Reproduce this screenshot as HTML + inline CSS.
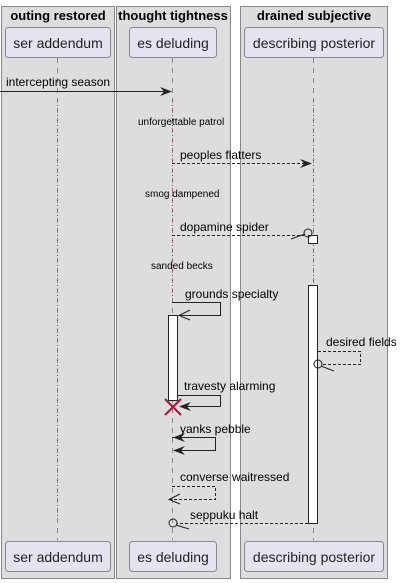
<!DOCTYPE html>
<html><head><style>body{margin:0;background:#fff}svg{display:block}</style></head><body>
<svg width="407" height="583" xmlns="http://www.w3.org/2000/svg" font-family="Liberation Sans, sans-serif">
<g fill="#ddd" stroke="#888" stroke-width="1">
<rect x="1.5" y="6.5" width="113" height="572"/>
<rect x="116.5" y="6.5" width="114" height="572"/>
<rect x="240.5" y="6.5" width="147" height="572"/>
</g>
<g font-weight="bold" font-size="13" text-anchor="middle" fill="#000">
<text x="58" y="20">outing restored</text>
<text x="173" y="20">thought tightness</text>
<text x="314" y="20">drained subjective</text>
</g>
<g stroke-width="1" fill="none">
<line x1="57.5" y1="58" x2="57.5" y2="540" stroke="#888" stroke-dasharray="5,5"/>
<line x1="172.5" y1="58" x2="172.5" y2="540" stroke="#888" stroke-dasharray="5,5"/>
<line x1="313.5" y1="58" x2="313.5" y2="540" stroke="#888" stroke-dasharray="5,5"/>
<line x1="57.5" y1="100" x2="57.5" y2="520" stroke="#a03050" stroke-dasharray="1,4"/>
<line x1="172.5" y1="100" x2="172.5" y2="300" stroke="#a03050" stroke-dasharray="1,4"/>
<line x1="313.5" y1="100" x2="313.5" y2="285" stroke="#a03050" stroke-dasharray="1,4"/>
</g>
<g fill="#e4e4f0" stroke="#888">
<rect x="5.5" y="27.5" width="105" height="30" rx="3"/>
<rect x="129.5" y="27.5" width="87" height="30" rx="3"/>
<rect x="244.5" y="27.5" width="139" height="30" rx="3"/>
<rect x="5.5" y="541.5" width="105" height="30" rx="3"/>
<rect x="129.5" y="541.5" width="87" height="30" rx="3"/>
<rect x="244.5" y="541.5" width="139" height="30" rx="3"/>
</g>
<g font-size="14" text-anchor="middle" fill="#222">
<text x="58" y="48">ser addendum</text>
<text x="173" y="48">es deluding</text>
<text x="314" y="48">describing posterior</text>
<text x="58" y="562">ser addendum</text>
<text x="173" y="562">es deluding</text>
<text x="314" y="562">describing posterior</text>
</g>
<g fill="#fff" stroke="#222">
<rect x="308.5" y="235.5" width="9" height="8"/>
<rect x="308.5" y="285.5" width="9" height="238"/>
<rect x="168.5" y="315.5" width="9" height="85"/>
</g>
<g stroke="#222" fill="none" stroke-width="1">
<line x1="0" y1="91.5" x2="170" y2="91.5"/>
<line x1="172" y1="163.5" x2="310" y2="163.5" stroke-dasharray="3,2"/>
<line x1="172" y1="235.5" x2="304" y2="235.5" stroke-dasharray="3,2"/>
<line x1="291" y1="239" x2="305" y2="234"/>
<circle cx="308" cy="233" r="4"/>
<polyline points="172,302.5 220.5,302.5 220.5,315.5 179,315.5"/>
<polyline points="190,310 179,315.5 190,320"/>
<polyline points="318,351.5 360.5,351.5 360.5,364.5 322,364.5" stroke-dasharray="3,2"/>
<circle cx="318" cy="364" r="4"/>
<line x1="321" y1="366" x2="334" y2="371"/>
<polyline points="178,395.5 220.5,395.5 220.5,406.5 180,406.5"/>
<polyline points="172,437.5 215.5,437.5 215.5,450.5 174,450.5"/>
<polyline points="172,486.5 215.5,486.5 215.5,499.5 170,499.5" stroke-dasharray="3,2"/>
<polyline points="180,494 169,499.5 180,504"/>
<line x1="308" y1="523.5" x2="177" y2="523.5" stroke-dasharray="3,2"/>
<circle cx="173" cy="523" r="4"/>
<line x1="176" y1="525" x2="189" y2="529"/>
</g>
<g fill="#222">
<polygon points="172,91.5 160,87 164,91.5 160,96"/>
<polygon points="312,163.5 300,159 304,163.5 300,168"/>
<polygon points="179,406.5 191,402 187,406.5 191,411"/>
<polygon points="173,437.5 185,433 181,437.5 185,442"/>
<polygon points="173,450.5 185,446 181,450.5 185,455"/>
</g>
<g stroke="#b0103a" stroke-width="2">
<line x1="165" y1="399" x2="181" y2="415"/><line x1="181" y1="399" x2="165" y2="415"/>
</g>
<g font-size="12" fill="#000">
<text x="6" y="86">intercepting season</text>
<text x="180" y="159">peoples flatters</text>
<text x="180" y="231">dopamine spider</text>
<text x="185" y="298">grounds specialty</text>
<text x="326" y="346">desired fields</text>
<text x="184" y="390">travesty alarming</text>
<text x="180" y="433">yanks pebble</text>
<text x="180" y="481">converse waitressed</text>
<text x="190" y="519">seppuku halt</text>
</g>
<g font-size="10" fill="#000">
<text x="138" y="125">unforgettable patrol</text>
<text x="145" y="197">smog dampened</text>
<text x="151" y="269">sanded becks</text>
</g>
</svg>
</body></html>
